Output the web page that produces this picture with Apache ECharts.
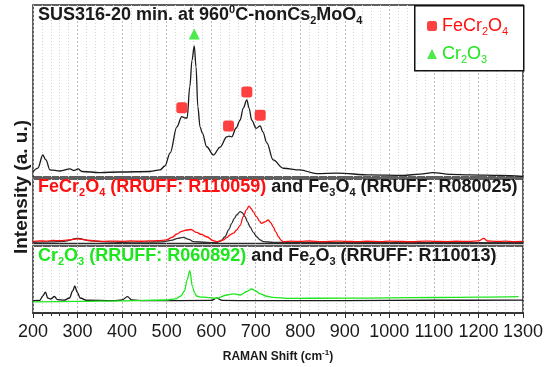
<!DOCTYPE html>
<html>
<head>
<meta charset="utf-8">
<script src="https://cdn.jsdelivr.net/npm/echarts@6.0.0/dist/echarts.min.js"></script>
<style>
html,body{margin:0;padding:0;background:#fff;}
#chart{width:556px;height:367px;}
</style>
</head>
<body>
<div id="chart"></div>
<script>
// ---- Data (Raman shift in cm^-1, intensity in arbitrary units 0-100 per panel) ----
const xMin = 200, xMax = 1300, xStep = 100;

// Top panel: SUS316-20 min. at 960 C - nonCs2MoO4
const sampleShift = [200,211,222,229,238,261,283,292,301,310,350,395,463,485,496,508,523,534,541,546,552,557,562,566,570,575,580,590,605,620,635,640,646,656,665,672,680,685,691,701,710,716,725,739,762,799,837,882,957,1031,1069,1098,1136,1181,1248,1300];
const sampleIntensity = [3.1,5.2,12.8,9.9,4.1,3.5,4.7,3.8,4.7,3.2,2.6,2.9,3.2,4.1,6.4,14.0,29.2,35.1,34.3,34.3,52.5,68.0,76.2,64.0,41.0,29.2,25.6,17.6,12.8,17.4,23.3,23.8,23.3,28.5,33.1,40.1,44.8,40.1,33.1,28.3,29.7,26.2,19.8,9.9,5.1,4.1,2.0,2.3,1.2,0.9,1.7,2.6,1.5,1.2,0.9,0.3];

// Peak markers
const feCr2O4PeakShift = [534, 639, 680, 710];
const feCr2O4PeakMark = [40.3, 29.7, 49.4, 35.9];
const cr2O3PeakShift = [562];
const cr2O3PeakMark = [83.1];

// Middle panel: FeCr2O4 (RRUFF R110059) and Fe3O4 (RRUFF R080025)
const feCr2O4RefShift = [200,215,230,245,260,280,300,320,340,360,380,400,420,440,460,480,500,512,523,534,545,555,567,578,590,605,612,620,627,635,642,650,657,665,672,679,685,690,694,702,708,713,720,728,734,739,745,751,757,762,780,800,820,850,880,900,930,950,980,1000,1030,1050,1080,1100,1130,1150,1180,1200,1212,1220,1240,1260,1280,1300];
const feCr2O4RefIntensity = [3.1,4.2,3.6,4.8,4.4,5.6,7.3,5.2,4.1,3.3,3.8,3.4,4.0,3.5,4.1,4.3,5.6,9.5,14.7,18.8,20.9,21.7,17.4,14.0,10.5,4.3,2.8,4.0,5.4,9.0,13.2,16.0,20.9,28.0,41.6,52.0,58.1,54.0,49.3,41.6,35.0,31.3,33.3,36.4,32.0,26.0,18.0,10.5,5.0,2.8,3.6,3.2,3.9,2.9,3.7,3.4,2.8,3.5,3.0,3.6,3.1,2.7,3.8,3.3,3.0,3.5,3.2,4.0,7.8,3.9,3.2,3.6,3.0,3.2];
const fe3O4RefShift = [200,240,270,300,330,360,400,450,490,510,525,537,550,560,590,612,622,631,640,646,652,657,665,670,676,682,687,695,702,710,717,740,800,900,1000,1100,1200,1300];
const fe3O4RefIntensity = [1.9,2.5,3.5,7.8,4.0,2.5,1.9,2.1,2.5,4.7,8.0,9.6,6.5,2.8,1.8,1.2,4.0,10.5,22.0,31.3,39.0,44.2,49.3,47.5,41.6,33.0,26.0,17.0,10.5,5.5,2.8,1.8,1.6,1.4,1.3,1.3,1.2,1.2];

// Bottom panel: Cr2O3 (RRUFF R060892) and Fe2O3 (RRUFF R110013)
const cr2O3RefShift = [200,300,400,500,520,532,540,546,552,558,563,567,578,590,612,635,650,665,680,691,700,710,725,739,777,900,1000,1100,1200,1290];
const cr2O3RefIntensity = [16.7,17.5,18.2,19.4,21.0,25.4,32.8,49.3,63.1,39.3,30.0,25.4,23.8,23.4,21.9,26.9,28.4,26.9,32.1,35.8,32.8,28.4,25.0,23.4,21.9,22.1,22.6,23.1,23.7,24.3];
const fe2O3RefShift = [200,215,222,228,233,240,248,255,270,282,289,294,299,306,320,380,400,412,422,450,600,612,625,700,900,1100,1300];
const fe2O3RefIntensity = [18.4,18.7,25.4,31.3,22.4,20.9,24.6,20.1,19.1,22.4,32.8,40.3,31.3,22.4,19.0,18.5,19.4,24.3,19.4,18.5,18.7,22.1,18.8,18.4,18.5,19.0,19.1];

// ---- Styling ----
const FONT = 'Liberation Sans, Arial, sans-serif';
const BLACK = '#1a1a1a', RED = '#ff1010', GREEN = '#1ee61e';
const zip = (xs, ys) => xs.map((x, i) => [x, ys[i]]);

const richAll = {
  k: {fontFamily: FONT, fontSize: 18, fontWeight: 'bold', color: BLACK, lineHeight: 22},
  ks: {fontFamily: FONT, fontSize: 11, fontWeight: 'bold', color: BLACK, verticalAlign: 'bottom'},
  kp: {fontFamily: FONT, fontSize: 11, fontWeight: 'bold', color: BLACK, verticalAlign: 'top'},
  r: {fontFamily: FONT, fontSize: 18, fontWeight: 'bold', color: RED, lineHeight: 22},
  rs: {fontFamily: FONT, fontSize: 11, fontWeight: 'bold', color: RED, verticalAlign: 'bottom'},
  g: {fontFamily: FONT, fontSize: 18, fontWeight: 'bold', color: GREEN, lineHeight: 22},
  gs: {fontFamily: FONT, fontSize: 11, fontWeight: 'bold', color: GREEN, verticalAlign: 'bottom'}
};

const gridBase = {left: 33, right: 33, show: true, borderColor: '#2b2b2b', borderWidth: 1.5, backgroundColor: 'transparent'};
const grids = [
  Object.assign({top: 5, height: 172}, gridBase),
  Object.assign({top: 179, height: 64.5}, gridBase),
  Object.assign({top: 246, height: 67}, gridBase)
];

function makeX(idx, bottom) {
  return {
    type: 'value', gridIndex: idx, min: xMin, max: xMax, interval: xStep,
    axisLine: {show: bottom, onZero: false, lineStyle: {color: '#2b2b2b', width: 1.5}},
    axisTick: {show: bottom, inside: false, length: 5, lineStyle: {color: '#2b2b2b', width: 1}},
    minorTick: {show: bottom, splitNumber: 5, length: 3, lineStyle: {color: '#2b2b2b', width: 1}},
    axisLabel: {show: bottom, fontFamily: FONT, fontSize: 18, color: '#1a1a1a', margin: 10,
                showMinLabel: true, showMaxLabel: true, hideOverlap: false,
                formatter: function (v) { return String(v); }},
    splitLine: {show: true, lineStyle: {color: '#bcbcbc', type: [2, 2], width: 1}},
    minorSplitLine: {show: true, lineStyle: {color: '#d4d4d4', type: [1, 2], width: 1}},
    name: bottom ? '{n|RAMAN Shift (cm}{p|-1}{n|)}' : '',
    nameLocation: 'middle', nameGap: 36,
    nameTextStyle: {rich: {
      n: {fontFamily: FONT, fontSize: 12, fontWeight: 'bold', color: BLACK, lineHeight: 16},
      p: {fontFamily: FONT, fontSize: 8, fontWeight: 'bold', color: BLACK, verticalAlign: 'top'}
    }}
  };
}
function makeY(idx) {
  return {type: 'value', gridIndex: idx, min: 0, max: 100, show: false, splitLine: {show: false}};
}
function lineSeries(name, xi, data, color, z) {
  return {
    type: 'line', name: name, xAxisIndex: xi, yAxisIndex: xi, data: data,
    showSymbol: false, smooth: 0.35, smoothMonotone: 'x',
    lineStyle: {color: color, width: 1.3}, z: z || 2, silent: true
  };
}

const option = {
  animation: false,
  backgroundColor: '#ffffff',
  grid: grids,
  xAxis: [makeX(0, false), makeX(1, false), makeX(2, true)],
  yAxis: [makeY(0), makeY(1), makeY(2)],
  title: [
    {text: '{k|SUS316-20 min. at 960}{kp|0}{k|C-nonCs}{ks|2}{k|MoO}{ks|4}', left: 38, top: 4, padding: 0,
     textStyle: {rich: richAll}},
    {text: '{r|FeCr}{rs|2}{r|O}{rs|4}{r| (RRUFF: R110059)}{k| and Fe}{ks|3}{k|O}{ks|4}{k| (RRUFF: R080025)}', left: 38, top: 176.5, padding: 0,
     textStyle: {rich: richAll}},
    {text: '{g|Cr}{gs|2}{g|O}{gs|3}{g| (RRUFF: R060892)}{k| and Fe}{ks|2}{k|O}{ks|3}{k| (RRUFF: R110013)}', left: 38, top: 245.5, padding: 0,
     textStyle: {rich: richAll}}
  ],
  legend: {
    orient: 'vertical', left: 427, top: 17, padding: 0, itemGap: 8,
    itemWidth: 10, itemHeight: 10, z: 6,
    data: [
      {name: 'FeCr2O4', icon: 'roundRect'},
      {name: 'Cr2O3', icon: 'triangle'}
    ],
    formatter: function (n) {
      return n === 'FeCr2O4' ? '{a|FeCr}{b|2}{a|O}{b|4}' : '{c|Cr}{d|2}{c|O}{d|3}';
    },
    textStyle: {rich: {
      a: {fontFamily: FONT, fontSize: 18, color: RED, lineHeight: 22},
      b: {fontFamily: FONT, fontSize: 11, color: RED, verticalAlign: 'bottom'},
      c: {fontFamily: FONT, fontSize: 18, color: GREEN, lineHeight: 22},
      d: {fontFamily: FONT, fontSize: 11, color: GREEN, verticalAlign: 'bottom'}
    }}
  },
  graphic: [
    {type: 'rect', left: 414, top: 5, z: 5, shape: {width: 109, height: 65},
     style: {fill: '#ffffff', stroke: '#111', lineWidth: 1.5}},
    {type: 'text', x: 22, y: 187, rotation: Math.PI / 2, z: 5,
     style: {text: 'Intensity (a. u.)', fontFamily: FONT, fontSize: 19, fontWeight: 'bold', fill: BLACK,
             align: 'center', verticalAlign: 'middle'}}
  ],
  series: [
    lineSeries('SUS316', 0, zip(sampleShift, sampleIntensity), BLACK),
    {type: 'scatter', name: 'FeCr2O4', xAxisIndex: 0, yAxisIndex: 0, symbol: 'roundRect', symbolSize: 11,
     itemStyle: {color: RED}, data: zip(feCr2O4PeakShift, feCr2O4PeakMark), z: 4},
    {type: 'scatter', name: 'Cr2O3', xAxisIndex: 0, yAxisIndex: 0, symbol: 'triangle', symbolSize: 11,
     itemStyle: {color: GREEN}, data: zip(cr2O3PeakShift, cr2O3PeakMark), z: 4},
    lineSeries('Fe3O4', 1, zip(fe3O4RefShift, fe3O4RefIntensity), '#333333', 2),
    lineSeries('FeCr2O4 ref', 1, zip(feCr2O4RefShift, feCr2O4RefIntensity), RED, 3),
    lineSeries('Fe2O3', 2, zip(fe2O3RefShift, fe2O3RefIntensity), BLACK, 2),
    lineSeries('Cr2O3 ref', 2, zip(cr2O3RefShift, cr2O3RefIntensity), GREEN, 3)
  ]
};

const chart = echarts.init(document.getElementById('chart'), null, {renderer: 'canvas'});
chart.setOption(option);
</script>
</body>
</html>
